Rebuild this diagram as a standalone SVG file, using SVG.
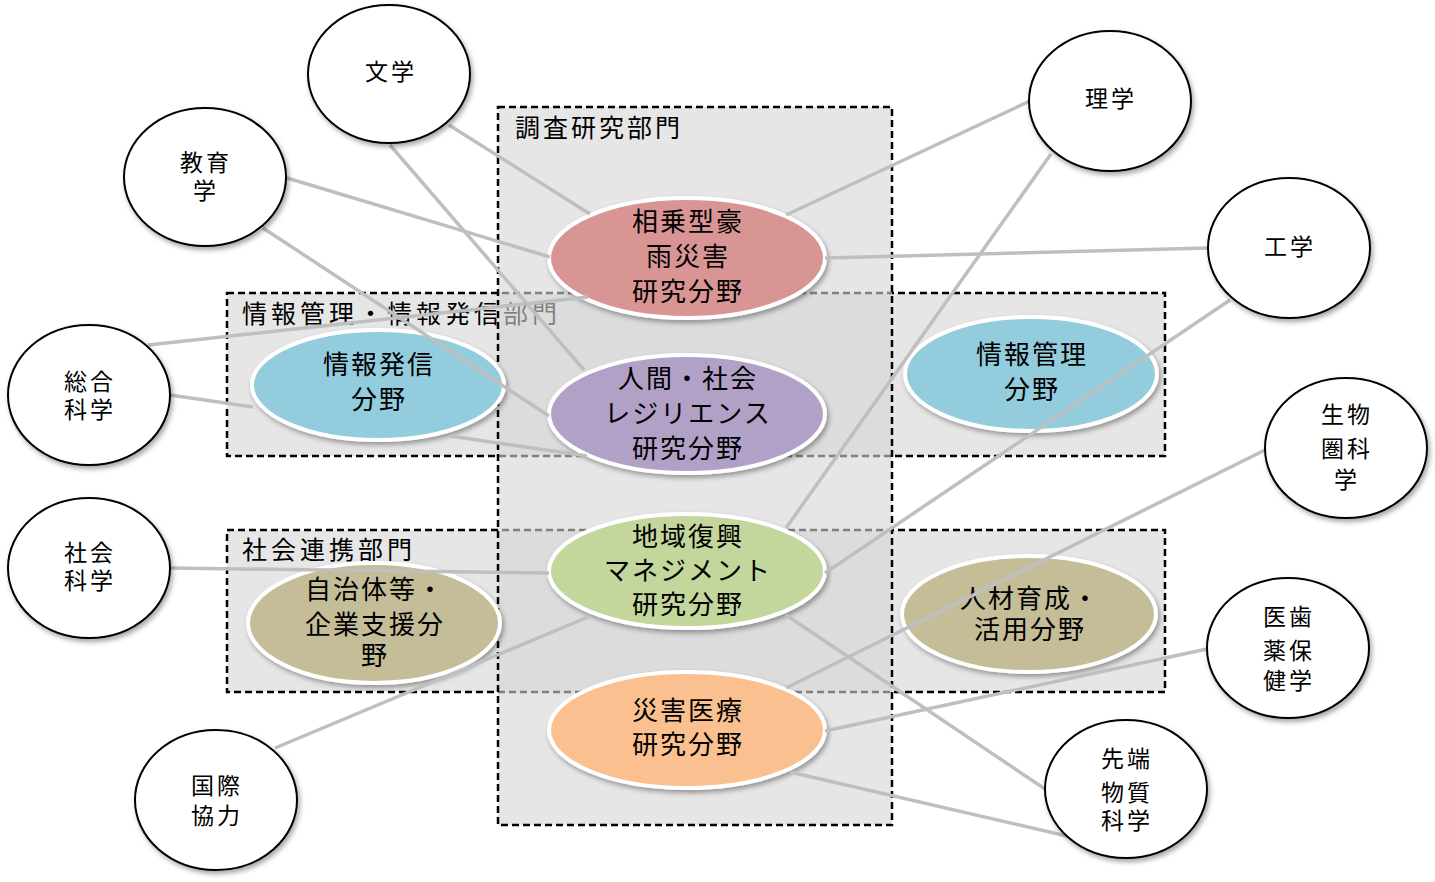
<svg xmlns="http://www.w3.org/2000/svg" width="1435" height="882" viewBox="0 0 1435 882">
<defs>
<filter id="sh" x="-20%" y="-20%" width="140%" height="150%">
<feDropShadow dx="2" dy="3" stdDeviation="2.5" flood-color="#000" flood-opacity="0.35"/>
</filter>
<style>
.box{fill:#d5d5d5;fill-opacity:0.6;stroke:#000;stroke-width:2.5;stroke-dasharray:7,4}
.btitle{font-family:"Noto Sans CJK JP","Noto Sans CJK SC",sans-serif;font-size:25px;letter-spacing:4px;fill:#000}
.field{stroke:#fff;stroke-width:4;filter:url(#sh)}
.ftext{font-family:"Noto Sans CJK JP","Noto Sans CJK SC",sans-serif;font-size:26px;letter-spacing:2px;text-anchor:middle;fill:#000}
.disc{fill:#fff;stroke:#000;stroke-width:2;filter:url(#sh)}
.dtext{font-family:"Noto Sans CJK JP","Noto Sans CJK SC",sans-serif;font-size:23px;letter-spacing:3px;text-anchor:middle;fill:#000}
.conn line{stroke:#bfbfbf;stroke-width:3.5}
</style>
</defs>
<rect width="1435" height="882" fill="#fff"/>

<g id="dept-info">
<rect class="box" x="227" y="293" width="938" height="163"/>
<text class="btitle" x="242" y="323">情報管理・情報発信部門</text>
</g>
<g id="dept-social">
<rect class="box" x="227" y="530" width="938" height="162"/>
<text class="btitle" x="242" y="559">社会連携部門</text>
</g>
<g id="dept-research">
<rect class="box" x="498" y="107" width="394" height="718"/>
<text class="btitle" x="515" y="137" style="letter-spacing:3px">調査研究部門</text>
</g>

<g id="f-gou">
<ellipse class="field" cx="687" cy="258" rx="138" ry="60" fill="#d99594"/>
<text class="ftext" x="688" y="231">相乗型豪</text>
<text class="ftext" x="688" y="266">雨災害</text>
<text class="ftext" x="688" y="301">研究分野</text>
</g>
<g id="f-res">
<ellipse class="field" cx="687" cy="414" rx="138" ry="59" fill="#b2a1c7"/>
<text class="ftext" x="688" y="388">人間・社会</text>
<text class="ftext" x="688" y="423">レジリエンス</text>
<text class="ftext" x="688" y="458">研究分野</text>
</g>
<g id="f-chiiki">
<ellipse class="field" cx="687" cy="571" rx="138" ry="57" fill="#c3d69b"/>
<text class="ftext" x="688" y="546">地域復興</text>
<text class="ftext" x="688" y="580">マネジメント</text>
<text class="ftext" x="688" y="614">研究分野</text>
</g>
<g id="f-iryo">
<ellipse class="field" cx="687" cy="730" rx="138" ry="58" fill="#fac090"/>
<text class="ftext" x="688" y="720">災害医療</text>
<text class="ftext" x="688" y="754">研究分野</text>
</g>
<g id="f-hasshin">
<ellipse class="field" cx="378" cy="385" rx="126" ry="55" fill="#93cddd"/>
<text class="ftext" x="379" y="374">情報発信</text>
<text class="ftext" x="379" y="409">分野</text>
</g>
<g id="f-kanri">
<ellipse class="field" cx="1031" cy="374" rx="126" ry="57" fill="#93cddd"/>
<text class="ftext" x="1032" y="364">情報管理</text>
<text class="ftext" x="1032" y="399">分野</text>
</g>
<g id="f-jichitai">
<ellipse class="field" cx="374" cy="623" rx="126" ry="60" fill="#c4bd97"/>
<text class="ftext" x="375" y="599">自治体等・</text>
<text class="ftext" x="375" y="634">企業支援分</text>
<text class="ftext" x="375" y="665">野</text>
</g>
<g id="f-jinzai">
<ellipse class="field" cx="1029" cy="614" rx="127" ry="58" fill="#c4bd97"/>
<text class="ftext" x="1030" y="608">人材育成・</text>
<text class="ftext" x="1030" y="639">活用分野</text>
</g>

<g id="connectors" class="conn">
<line x1="449" y1="125" x2="590" y2="214"/>
<line x1="390" y1="145" x2="584" y2="370"/>
<line x1="287" y1="178" x2="550" y2="257"/>
<line x1="263" y1="228" x2="549" y2="416"/>
<line x1="148" y1="345" x2="588" y2="297"/>
<line x1="170" y1="395" x2="253" y2="407"/>
<line x1="450" y1="436" x2="587" y2="456"/>
<line x1="170" y1="568" x2="549" y2="573"/>
<line x1="275" y1="748" x2="588" y2="617"/>
<line x1="1030" y1="101" x2="786" y2="215"/>
<line x1="1051" y1="154" x2="786" y2="528"/>
<line x1="1208" y1="248" x2="825" y2="258"/>
<line x1="1230" y1="300" x2="825" y2="573"/>
<line x1="1265" y1="450" x2="786" y2="688"/>
<line x1="1207" y1="649" x2="825" y2="731"/>
<line x1="1045" y1="789" x2="786" y2="615"/>
<line x1="1067" y1="836" x2="790" y2="772"/>
</g>

<g id="d-bungaku">
<ellipse class="disc" cx="389" cy="74" rx="81" ry="69"/>
<text class="dtext" x="391" y="80">文学</text>
</g>
<g id="d-kyoiku">
<ellipse class="disc" cx="205" cy="177" rx="81" ry="69"/>
<text class="dtext" x="206" y="171">教育</text>
<text class="dtext" x="206" y="199">学</text>
</g>
<g id="d-sogo">
<ellipse class="disc" cx="89" cy="395" rx="81" ry="70"/>
<text class="dtext" x="90" y="390">総合</text>
<text class="dtext" x="90" y="418">科学</text>
</g>
<g id="d-shakai">
<ellipse class="disc" cx="89" cy="568" rx="81" ry="70"/>
<text class="dtext" x="90" y="561">社会</text>
<text class="dtext" x="90" y="589">科学</text>
</g>
<g id="d-kokusai">
<ellipse class="disc" cx="216" cy="800" rx="81" ry="70"/>
<text class="dtext" x="217" y="794">国際</text>
<text class="dtext" x="217" y="824">協力</text>
</g>
<g id="d-rigaku">
<ellipse class="disc" cx="1110" cy="101" rx="81" ry="70"/>
<text class="dtext" x="1111" y="107">理学</text>
</g>
<g id="d-kogaku">
<ellipse class="disc" cx="1289" cy="248" rx="81" ry="70"/>
<text class="dtext" x="1290" y="255">工学</text>
</g>
<g id="d-seibutsu">
<ellipse class="disc" cx="1346" cy="448" rx="81" ry="70"/>
<text class="dtext" x="1347" y="423">生物</text>
<text class="dtext" x="1347" y="457">圏科</text>
<text class="dtext" x="1347" y="488">学</text>
</g>
<g id="d-ishi">
<ellipse class="disc" cx="1288" cy="648" rx="81" ry="70"/>
<text class="dtext" x="1289" y="625">医歯</text>
<text class="dtext" x="1289" y="659">薬保</text>
<text class="dtext" x="1289" y="689">健学</text>
</g>
<g id="d-sentan">
<ellipse class="disc" cx="1126" cy="789" rx="81" ry="69"/>
<text class="dtext" x="1127" y="767">先端</text>
<text class="dtext" x="1127" y="801">物質</text>
<text class="dtext" x="1127" y="829">科学</text>
</g>
</svg>
